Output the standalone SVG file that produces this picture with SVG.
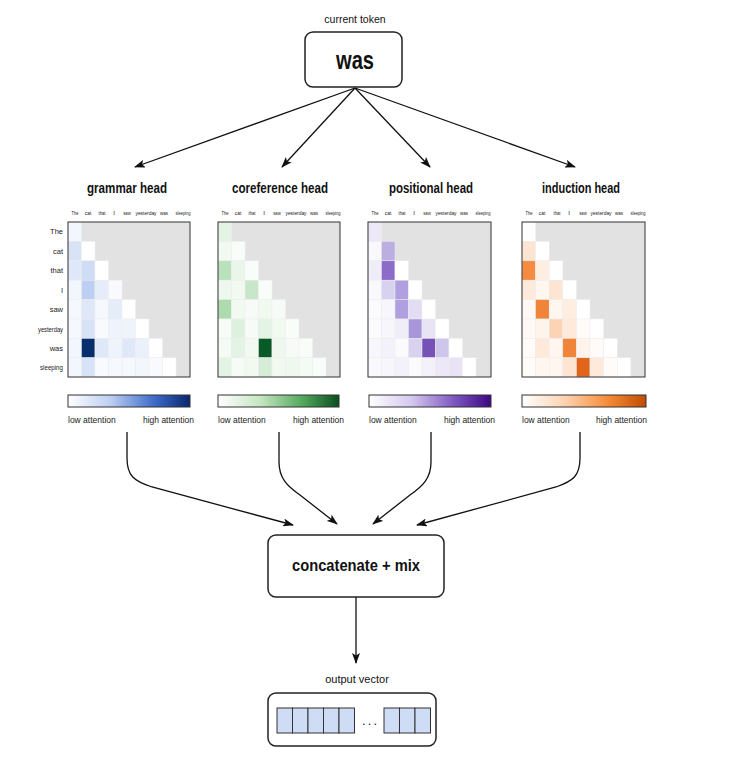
<svg xmlns="http://www.w3.org/2000/svg" width="731" height="783" viewBox="0 0 731 783">
<style>
text{font-family:"Liberation Sans",Arial,sans-serif;fill:#111}
.node{fill:#fff;stroke:#222;stroke-width:1.5}
.title{font-weight:bold;font-size:15px;text-anchor:middle}
.cl{font-size:6px;text-anchor:middle;fill:#222}
.rl{font-size:7.5px;text-anchor:end;fill:#222}
.cb{font-size:8.5px;fill:#222}
.frame{fill:#e2e2e2;stroke:none}
.fs{fill:none;stroke:#333;stroke-width:1}
.hm rect.c{stroke:#eeeeee;stroke-width:0.5}
.cbar{stroke:#333;stroke-width:1}
.conn{fill:none;stroke:#111;stroke-width:1.3}
.vc{fill:#cfdcf5;stroke:#333;stroke-width:1}
</style>
<defs>
<marker id="ah" markerWidth="11" markerHeight="8" refX="10" refY="4" orient="auto" markerUnits="userSpaceOnUse">
<path d="M0,0 L11,4 L0,8 L2.5,4 z" fill="#111"/>
</marker>
<linearGradient id="gB" x1="0" x2="1" y1="0" y2="0"><stop offset="0" stop-color="#ffffff"/><stop offset="0.35" stop-color="#bccef2"/><stop offset="0.7" stop-color="#3f6dcb"/><stop offset="1" stop-color="#08276e"/></linearGradient>
<linearGradient id="gG" x1="0" x2="1" y1="0" y2="0"><stop offset="0" stop-color="#ffffff"/><stop offset="0.35" stop-color="#c6e6c2"/><stop offset="0.7" stop-color="#52a85c"/><stop offset="1" stop-color="#0a4d1f"/></linearGradient>
<linearGradient id="gP" x1="0" x2="1" y1="0" y2="0"><stop offset="0" stop-color="#ffffff"/><stop offset="0.35" stop-color="#d4c8ef"/><stop offset="0.7" stop-color="#7d56c0"/><stop offset="1" stop-color="#3c0783"/></linearGradient>
<linearGradient id="gO" x1="0" x2="1" y1="0" y2="0"><stop offset="0" stop-color="#ffffff"/><stop offset="0.35" stop-color="#fdd2b0"/><stop offset="0.7" stop-color="#f58a35"/><stop offset="1" stop-color="#c04c00"/></linearGradient>
</defs>
<rect width="731" height="783" fill="#fff"/>

<g id="connectors">
<path class="conn" d="M355,88 L135,167" marker-end="url(#ah)"/>
<path class="conn" d="M355,88 L282,167" marker-end="url(#ah)"/>
<path class="conn" d="M355,88 L430,167" marker-end="url(#ah)"/>
<path class="conn" d="M355,88 L575,167" marker-end="url(#ah)"/>
<path class="conn" d="M127,432 V458 C127,476 134,481 152,487 L293,525" marker-end="url(#ah)"/>
<path class="conn" d="M279,432 V462 C279,478 287,486 300,495 L337,524" marker-end="url(#ah)"/>
<path class="conn" d="M431,432 V462 C431,478 423,486 410,495 L373,524" marker-end="url(#ah)"/>
<path class="conn" d="M580,432 V458 C580,476 573,481 556,487 L417,525" marker-end="url(#ah)"/>
<path class="conn" d="M356,597 V663" marker-end="url(#ah)"/>
</g>

<g id="current-token">
<text x="355" y="23" font-size="10.5" text-anchor="middle">current token</text>
<rect class="node" x="305" y="32" width="97" height="55" rx="8"/>
<text x="355" y="69" font-size="26" font-weight="bold" text-anchor="middle" textLength="38" lengthAdjust="spacingAndGlyphs">was</text>
</g>

<g id="row-labels">
<text class="rl" x="63" y="234">The</text>
<text class="rl" x="63" y="253.5">cat</text>
<text class="rl" x="63" y="273">that</text>
<text class="rl" x="63" y="292.5">I</text>
<text class="rl" x="63" y="312">saw</text>
<text class="rl" x="63" y="331.5" textLength="25" lengthAdjust="spacingAndGlyphs">yesterday</text>
<text class="rl" x="63" y="350.5">was</text>
<text class="rl" x="63" y="370" textLength="23" lengthAdjust="spacingAndGlyphs">sleeping</text>
</g>

<g id="grammar-head">
<text class="title" x="127" y="193" textLength="80" lengthAdjust="spacingAndGlyphs">grammar head</text>
<g transform="translate(68,214.5)">
<text class="cl" x="7" textLength="7" lengthAdjust="spacingAndGlyphs">The</text><text class="cl" x="20" textLength="6.5" lengthAdjust="spacingAndGlyphs">cat</text><text class="cl" x="34" textLength="7" lengthAdjust="spacingAndGlyphs">that</text><text class="cl" x="46">I</text><text class="cl" x="59" textLength="7.5" lengthAdjust="spacingAndGlyphs">saw</text><text class="cl" x="78" textLength="21" lengthAdjust="spacingAndGlyphs">yesterday</text><text class="cl" x="96" textLength="8" lengthAdjust="spacingAndGlyphs">was</text><text class="cl" x="115" textLength="15" lengthAdjust="spacingAndGlyphs">sleeping</text>
</g>
<g class="hm" transform="translate(68,222)">
<rect class="frame" width="122" height="155"/>
<rect class="c" x="0" y="0" width="13.5" height="19.4" fill="#f2f6fd"/>
<rect class="c" x="0" y="19.4" width="13.5" height="19.4" fill="#d8e3f8"/><rect class="c" x="13.5" y="19.4" width="13.5" height="19.4" fill="#ffffff"/>
<rect class="c" x="0" y="38.8" width="13.5" height="19.4" fill="#dee8f9"/><rect class="c" x="13.5" y="38.8" width="13.5" height="19.4" fill="#cedcf6"/><rect class="c" x="27" y="38.8" width="13.5" height="19.4" fill="#ffffff"/>
<rect class="c" x="0" y="58.2" width="13.5" height="19.4" fill="#f2f6fd"/><rect class="c" x="13.5" y="58.2" width="13.5" height="19.4" fill="#bdd0f3"/><rect class="c" x="27" y="58.2" width="13.5" height="19.4" fill="#e5ecfa"/><rect class="c" x="40.5" y="58.2" width="13.5" height="19.4" fill="#f8fafe"/>
<rect class="c" x="0" y="77.6" width="13.5" height="19.4" fill="#f5f8fd"/><rect class="c" x="13.5" y="77.6" width="13.5" height="19.4" fill="#dee8f9"/><rect class="c" x="27" y="77.6" width="13.5" height="19.4" fill="#f5f8fd"/><rect class="c" x="40.5" y="77.6" width="13.5" height="19.4" fill="#e5ecfa"/><rect class="c" x="54" y="77.6" width="13.5" height="19.4" fill="#ffffff"/>
<rect class="c" x="0" y="97" width="13.5" height="19.4" fill="#f5f8fd"/><rect class="c" x="13.5" y="97" width="13.5" height="19.4" fill="#d8e3f8"/><rect class="c" x="27" y="97" width="13.5" height="19.4" fill="#f8fafe"/><rect class="c" x="40.5" y="97" width="13.5" height="19.4" fill="#eff3fc"/><rect class="c" x="54" y="97" width="13.5" height="19.4" fill="#eff3fc"/><rect class="c" x="67.5" y="97" width="13.5" height="19.4" fill="#ffffff"/>
<rect class="c" x="0" y="116.4" width="13.5" height="19.4" fill="#f2f6fd"/><rect class="c" x="13.5" y="116.4" width="13.5" height="19.4" fill="#082e6e"/><rect class="c" x="27" y="116.4" width="13.5" height="19.4" fill="#dee8f9"/><rect class="c" x="40.5" y="116.4" width="13.5" height="19.4" fill="#eff3fc"/><rect class="c" x="54" y="116.4" width="13.5" height="19.4" fill="#dee8f9"/><rect class="c" x="67.5" y="116.4" width="13.5" height="19.4" fill="#ebf1fb"/><rect class="c" x="81" y="116.4" width="13.5" height="19.4" fill="#ffffff"/>
<rect class="c" x="0" y="135.8" width="13.5" height="19.2" fill="#f2f6fd"/><rect class="c" x="13.5" y="135.8" width="13.5" height="19.2" fill="#d8e3f8"/><rect class="c" x="27" y="135.8" width="13.5" height="19.2" fill="#f8fafe"/><rect class="c" x="40.5" y="135.8" width="13.5" height="19.2" fill="#f5f8fd"/><rect class="c" x="54" y="135.8" width="13.5" height="19.2" fill="#f5f8fd"/><rect class="c" x="67.5" y="135.8" width="13.5" height="19.2" fill="#f2f6fd"/><rect class="c" x="81" y="135.8" width="13.5" height="19.2" fill="#f8fafe"/><rect class="c" x="94.5" y="135.8" width="13.5" height="19.2" fill="#ffffff"/>
<rect class="fs" width="122" height="155"/>
</g>
<rect class="cbar" x="68" y="395" width="122" height="12" fill="url(#gB)"/>
<text class="cb" x="68" y="423">low attention</text>
<text class="cb" x="194" y="423" text-anchor="end">high attention</text>
</g>

<g id="coreference-head">
<text class="title" x="280" y="193" textLength="96" lengthAdjust="spacingAndGlyphs">coreference head</text>
<g transform="translate(218,214.5)">
<text class="cl" x="7" textLength="7" lengthAdjust="spacingAndGlyphs">The</text><text class="cl" x="20" textLength="6.5" lengthAdjust="spacingAndGlyphs">cat</text><text class="cl" x="34" textLength="7" lengthAdjust="spacingAndGlyphs">that</text><text class="cl" x="46">I</text><text class="cl" x="59" textLength="7.5" lengthAdjust="spacingAndGlyphs">saw</text><text class="cl" x="78" textLength="21" lengthAdjust="spacingAndGlyphs">yesterday</text><text class="cl" x="96" textLength="8" lengthAdjust="spacingAndGlyphs">was</text><text class="cl" x="115" textLength="15" lengthAdjust="spacingAndGlyphs">sleeping</text>
</g>
<g class="hm" transform="translate(218,222)">
<rect class="frame" width="122" height="155"/>
<rect class="c" x="0" y="0" width="13.5" height="19.4" fill="#e3f3e4"/>
<rect class="c" x="0" y="19.4" width="13.5" height="19.4" fill="#f1f9f1"/><rect class="c" x="13.5" y="19.4" width="13.5" height="19.4" fill="#f9fdfa"/>
<rect class="c" x="0" y="38.8" width="13.5" height="19.4" fill="#b9e1bb"/><rect class="c" x="13.5" y="38.8" width="13.5" height="19.4" fill="#e9f6e9"/><rect class="c" x="27" y="38.8" width="13.5" height="19.4" fill="#f9fdfa"/>
<rect class="c" x="0" y="58.2" width="13.5" height="19.4" fill="#eef8ef"/><rect class="c" x="13.5" y="58.2" width="13.5" height="19.4" fill="#f1f9f1"/><rect class="c" x="27" y="58.2" width="13.5" height="19.4" fill="#c7e7c8"/><rect class="c" x="40.5" y="58.2" width="13.5" height="19.4" fill="#f9fdfa"/>
<rect class="c" x="0" y="77.6" width="13.5" height="19.4" fill="#acdcad"/><rect class="c" x="13.5" y="77.6" width="13.5" height="19.4" fill="#f1f9f1"/><rect class="c" x="27" y="77.6" width="13.5" height="19.4" fill="#f7fbf7"/><rect class="c" x="40.5" y="77.6" width="13.5" height="19.4" fill="#f1f9f1"/><rect class="c" x="54" y="77.6" width="13.5" height="19.4" fill="#f7fbf7"/>
<rect class="c" x="0" y="97" width="13.5" height="19.4" fill="#f7fbf7"/><rect class="c" x="13.5" y="97" width="13.5" height="19.4" fill="#def1de"/><rect class="c" x="27" y="97" width="13.5" height="19.4" fill="#f7fbf7"/><rect class="c" x="40.5" y="97" width="13.5" height="19.4" fill="#e3f3e4"/><rect class="c" x="54" y="97" width="13.5" height="19.4" fill="#f1f9f1"/><rect class="c" x="67.5" y="97" width="13.5" height="19.4" fill="#f9fdfa"/>
<rect class="c" x="0" y="116.4" width="13.5" height="19.4" fill="#f4faf4"/><rect class="c" x="13.5" y="116.4" width="13.5" height="19.4" fill="#e3f3e4"/><rect class="c" x="27" y="116.4" width="13.5" height="19.4" fill="#f1f9f1"/><rect class="c" x="40.5" y="116.4" width="13.5" height="19.4" fill="#0a5a28"/><rect class="c" x="54" y="116.4" width="13.5" height="19.4" fill="#eef8ef"/><rect class="c" x="67.5" y="116.4" width="13.5" height="19.4" fill="#f7fbf7"/><rect class="c" x="81" y="116.4" width="13.5" height="19.4" fill="#f9fdfa"/>
<rect class="c" x="0" y="135.8" width="13.5" height="19.2" fill="#e3f3e4"/><rect class="c" x="13.5" y="135.8" width="13.5" height="19.2" fill="#f7fbf7"/><rect class="c" x="27" y="135.8" width="13.5" height="19.2" fill="#f1f9f1"/><rect class="c" x="40.5" y="135.8" width="13.5" height="19.2" fill="#d5edd6"/><rect class="c" x="54" y="135.8" width="13.5" height="19.2" fill="#f1f9f1"/><rect class="c" x="67.5" y="135.8" width="13.5" height="19.2" fill="#eef8ef"/><rect class="c" x="81" y="135.8" width="13.5" height="19.2" fill="#f4faf4"/><rect class="c" x="94.5" y="135.8" width="13.5" height="19.2" fill="#f9fdfa"/>
<rect class="fs" width="122" height="155"/>
</g>
<rect class="cbar" x="218" y="395" width="121" height="12" fill="url(#gG)"/>
<text class="cb" x="218" y="423">low attention</text>
<text class="cb" x="344" y="423" text-anchor="end">high attention</text>
</g>

<g id="positional-head">
<text class="title" x="431" y="193" textLength="84" lengthAdjust="spacingAndGlyphs">positional head</text>
<g transform="translate(368,214.5)">
<text class="cl" x="7" textLength="7" lengthAdjust="spacingAndGlyphs">The</text><text class="cl" x="20" textLength="6.5" lengthAdjust="spacingAndGlyphs">cat</text><text class="cl" x="34" textLength="7" lengthAdjust="spacingAndGlyphs">that</text><text class="cl" x="46">I</text><text class="cl" x="59" textLength="7.5" lengthAdjust="spacingAndGlyphs">saw</text><text class="cl" x="78" textLength="21" lengthAdjust="spacingAndGlyphs">yesterday</text><text class="cl" x="96" textLength="8" lengthAdjust="spacingAndGlyphs">was</text><text class="cl" x="115" textLength="15" lengthAdjust="spacingAndGlyphs">sleeping</text>
</g>
<g class="hm" transform="translate(368,222)">
<rect class="frame" width="123" height="155"/>
<rect class="c" x="0" y="0" width="13.5" height="19.4" fill="#ece8f7"/>
<rect class="c" x="0" y="19.4" width="13.5" height="19.4" fill="#f9f8fd"/><rect class="c" x="13.5" y="19.4" width="13.5" height="19.4" fill="#bbafe2"/>
<rect class="c" x="0" y="38.8" width="13.5" height="19.4" fill="#efedf8"/><rect class="c" x="13.5" y="38.8" width="13.5" height="19.4" fill="#8b6cc8"/><rect class="c" x="27" y="38.8" width="13.5" height="19.4" fill="#ffffff"/>
<rect class="c" x="0" y="58.2" width="13.5" height="19.4" fill="#f9f8fd"/><rect class="c" x="13.5" y="58.2" width="13.5" height="19.4" fill="#d8d1ef"/><rect class="c" x="27" y="58.2" width="13.5" height="19.4" fill="#b1a0e0"/><rect class="c" x="40.5" y="58.2" width="13.5" height="19.4" fill="#ffffff"/>
<rect class="c" x="0" y="77.6" width="13.5" height="19.4" fill="#fbfafd"/><rect class="c" x="13.5" y="77.6" width="13.5" height="19.4" fill="#f7f6fc"/><rect class="c" x="27" y="77.6" width="13.5" height="19.4" fill="#b1a0e0"/><rect class="c" x="40.5" y="77.6" width="13.5" height="19.4" fill="#e2ddf3"/><rect class="c" x="54" y="77.6" width="13.5" height="19.4" fill="#ffffff"/>
<rect class="c" x="0" y="97" width="13.5" height="19.4" fill="#fbfafd"/><rect class="c" x="13.5" y="97" width="13.5" height="19.4" fill="#f7f6fc"/><rect class="c" x="27" y="97" width="13.5" height="19.4" fill="#efedf8"/><rect class="c" x="40.5" y="97" width="13.5" height="19.4" fill="#a895da"/><rect class="c" x="54" y="97" width="13.5" height="19.4" fill="#e8e3f5"/><rect class="c" x="67.5" y="97" width="13.5" height="19.4" fill="#ffffff"/>
<rect class="c" x="0" y="116.4" width="13.5" height="19.4" fill="#f7f6fc"/><rect class="c" x="13.5" y="116.4" width="13.5" height="19.4" fill="#f3f1fa"/><rect class="c" x="27" y="116.4" width="13.5" height="19.4" fill="#fbfafd"/><rect class="c" x="40.5" y="116.4" width="13.5" height="19.4" fill="#d8d1ef"/><rect class="c" x="54" y="116.4" width="13.5" height="19.4" fill="#7652b8"/><rect class="c" x="67.5" y="116.4" width="13.5" height="19.4" fill="#cfc6eb"/><rect class="c" x="81" y="116.4" width="13.5" height="19.4" fill="#ffffff"/>
<rect class="c" x="0" y="135.8" width="13.5" height="19.2" fill="#f9f8fd"/><rect class="c" x="13.5" y="135.8" width="13.5" height="19.2" fill="#f7f6fc"/><rect class="c" x="27" y="135.8" width="13.5" height="19.2" fill="#f3f1fa"/><rect class="c" x="40.5" y="135.8" width="13.5" height="19.2" fill="#fbfafd"/><rect class="c" x="54" y="135.8" width="13.5" height="19.2" fill="#f3f1fa"/><rect class="c" x="67.5" y="135.8" width="13.5" height="19.2" fill="#ece8f7"/><rect class="c" x="81" y="135.8" width="13.5" height="19.2" fill="#e8e3f5"/><rect class="c" x="94.5" y="135.8" width="13.5" height="19.2" fill="#ffffff"/>
<rect class="fs" width="123" height="155"/>
</g>
<rect class="cbar" x="369" y="395" width="122" height="12" fill="url(#gP)"/>
<text class="cb" x="369" y="423">low attention</text>
<text class="cb" x="495" y="423" text-anchor="end">high attention</text>
</g>

<g id="induction-head">
<text class="title" x="581" y="193" textLength="78" lengthAdjust="spacingAndGlyphs">induction head</text>
<g transform="translate(522,214.5)">
<text class="cl" x="7" textLength="7" lengthAdjust="spacingAndGlyphs">The</text><text class="cl" x="20" textLength="6.5" lengthAdjust="spacingAndGlyphs">cat</text><text class="cl" x="35" textLength="7" lengthAdjust="spacingAndGlyphs">that</text><text class="cl" x="47">I</text><text class="cl" x="61" textLength="7.5" lengthAdjust="spacingAndGlyphs">saw</text><text class="cl" x="79" textLength="21" lengthAdjust="spacingAndGlyphs">yesterday</text><text class="cl" x="97" textLength="8" lengthAdjust="spacingAndGlyphs">was</text><text class="cl" x="116" textLength="15" lengthAdjust="spacingAndGlyphs">sleeping</text>
</g>
<g class="hm" transform="translate(522,222)">
<rect class="frame" width="123" height="155"/>
<rect class="c" x="0" y="0" width="13.6" height="19.4" fill="#ffffff"/>
<rect class="c" x="0" y="19.4" width="13.6" height="19.4" fill="#fee5d3"/><rect class="c" x="13.6" y="19.4" width="13.6" height="19.4" fill="#ffffff"/>
<rect class="c" x="0" y="38.8" width="13.6" height="19.4" fill="#f58b40"/><rect class="c" x="13.6" y="38.8" width="13.6" height="19.4" fill="#feede1"/><rect class="c" x="27.2" y="38.8" width="13.6" height="19.4" fill="#ffffff"/>
<rect class="c" x="0" y="58.2" width="13.6" height="19.4" fill="#fee9da"/><rect class="c" x="13.6" y="58.2" width="13.6" height="19.4" fill="#fff6f0"/><rect class="c" x="27.2" y="58.2" width="13.6" height="19.4" fill="#fee5d3"/><rect class="c" x="40.8" y="58.2" width="13.6" height="19.4" fill="#ffffff"/>
<rect class="c" x="0" y="77.6" width="13.6" height="19.4" fill="#fff8f4"/><rect class="c" x="13.6" y="77.6" width="13.6" height="19.4" fill="#f08439"/><rect class="c" x="27.2" y="77.6" width="13.6" height="19.4" fill="#fff6f0"/><rect class="c" x="40.8" y="77.6" width="13.6" height="19.4" fill="#feede1"/><rect class="c" x="54.4" y="77.6" width="13.6" height="19.4" fill="#ffffff"/>
<rect class="c" x="0" y="97" width="13.6" height="19.4" fill="#fff8f4"/><rect class="c" x="13.6" y="97" width="13.6" height="19.4" fill="#fef4ec"/><rect class="c" x="27.2" y="97" width="13.6" height="19.4" fill="#fdd3b5"/><rect class="c" x="40.8" y="97" width="13.6" height="19.4" fill="#fee9da"/><rect class="c" x="54.4" y="97" width="13.6" height="19.4" fill="#fffbf8"/><rect class="c" x="68" y="97" width="13.6" height="19.4" fill="#ffffff"/>
<rect class="c" x="0" y="116.4" width="13.6" height="19.4" fill="#fffbf8"/><rect class="c" x="13.6" y="116.4" width="13.6" height="19.4" fill="#fee9da"/><rect class="c" x="27.2" y="116.4" width="13.6" height="19.4" fill="#fff6f0"/><rect class="c" x="40.8" y="116.4" width="13.6" height="19.4" fill="#f08439"/><rect class="c" x="54.4" y="116.4" width="13.6" height="19.4" fill="#fef4ec"/><rect class="c" x="68" y="116.4" width="13.6" height="19.4" fill="#fffbf8"/><rect class="c" x="81.6" y="116.4" width="13.6" height="19.4" fill="#ffffff"/>
<rect class="c" x="0" y="135.8" width="13.6" height="19.2" fill="#fffbf8"/><rect class="c" x="13.6" y="135.8" width="13.6" height="19.2" fill="#fff6f0"/><rect class="c" x="27.2" y="135.8" width="13.6" height="19.2" fill="#fff6f0"/><rect class="c" x="40.8" y="135.8" width="13.6" height="19.2" fill="#fee5d3"/><rect class="c" x="54.4" y="135.8" width="13.6" height="19.2" fill="#e0641a"/><rect class="c" x="68" y="135.8" width="13.6" height="19.2" fill="#fee9da"/><rect class="c" x="81.6" y="135.8" width="13.6" height="19.2" fill="#fffbf8"/><rect class="c" x="95.2" y="135.8" width="13.6" height="19.2" fill="#ffffff"/>
<rect class="fs" width="123" height="155"/>
</g>
<rect class="cbar" x="522" y="395" width="124" height="12" fill="url(#gO)"/>
<text class="cb" x="522" y="423">low attention</text>
<text class="cb" x="647" y="423" text-anchor="end">high attention</text>
</g>

<g id="concatenate-mix">
<rect class="node" x="268" y="535" width="176" height="62" rx="8"/>
<text x="356" y="571" font-size="17" font-weight="bold" text-anchor="middle" textLength="128" lengthAdjust="spacingAndGlyphs">concatenate + mix</text>
</g>

<g id="output-vector">
<text x="357" y="683" font-size="11" text-anchor="middle">output vector</text>
<rect class="node" x="268" y="693" width="168" height="53" rx="8"/>
<rect class="vc" x="277" y="708" width="15.5" height="25"/>
<rect class="vc" x="292.5" y="708" width="15.5" height="25"/>
<rect class="vc" x="308" y="708" width="15.5" height="25"/>
<rect class="vc" x="323.5" y="708" width="15.5" height="25"/>
<rect class="vc" x="339" y="708" width="15.5" height="25"/>
<text x="369.5" y="725" font-size="13" text-anchor="middle" textLength="15" lengthAdjust="spacing">...</text>
<rect class="vc" x="384" y="708" width="15.5" height="25"/>
<rect class="vc" x="399.5" y="708" width="15.5" height="25"/>
<rect class="vc" x="415" y="708" width="15.5" height="25"/>
</g>
</svg>
